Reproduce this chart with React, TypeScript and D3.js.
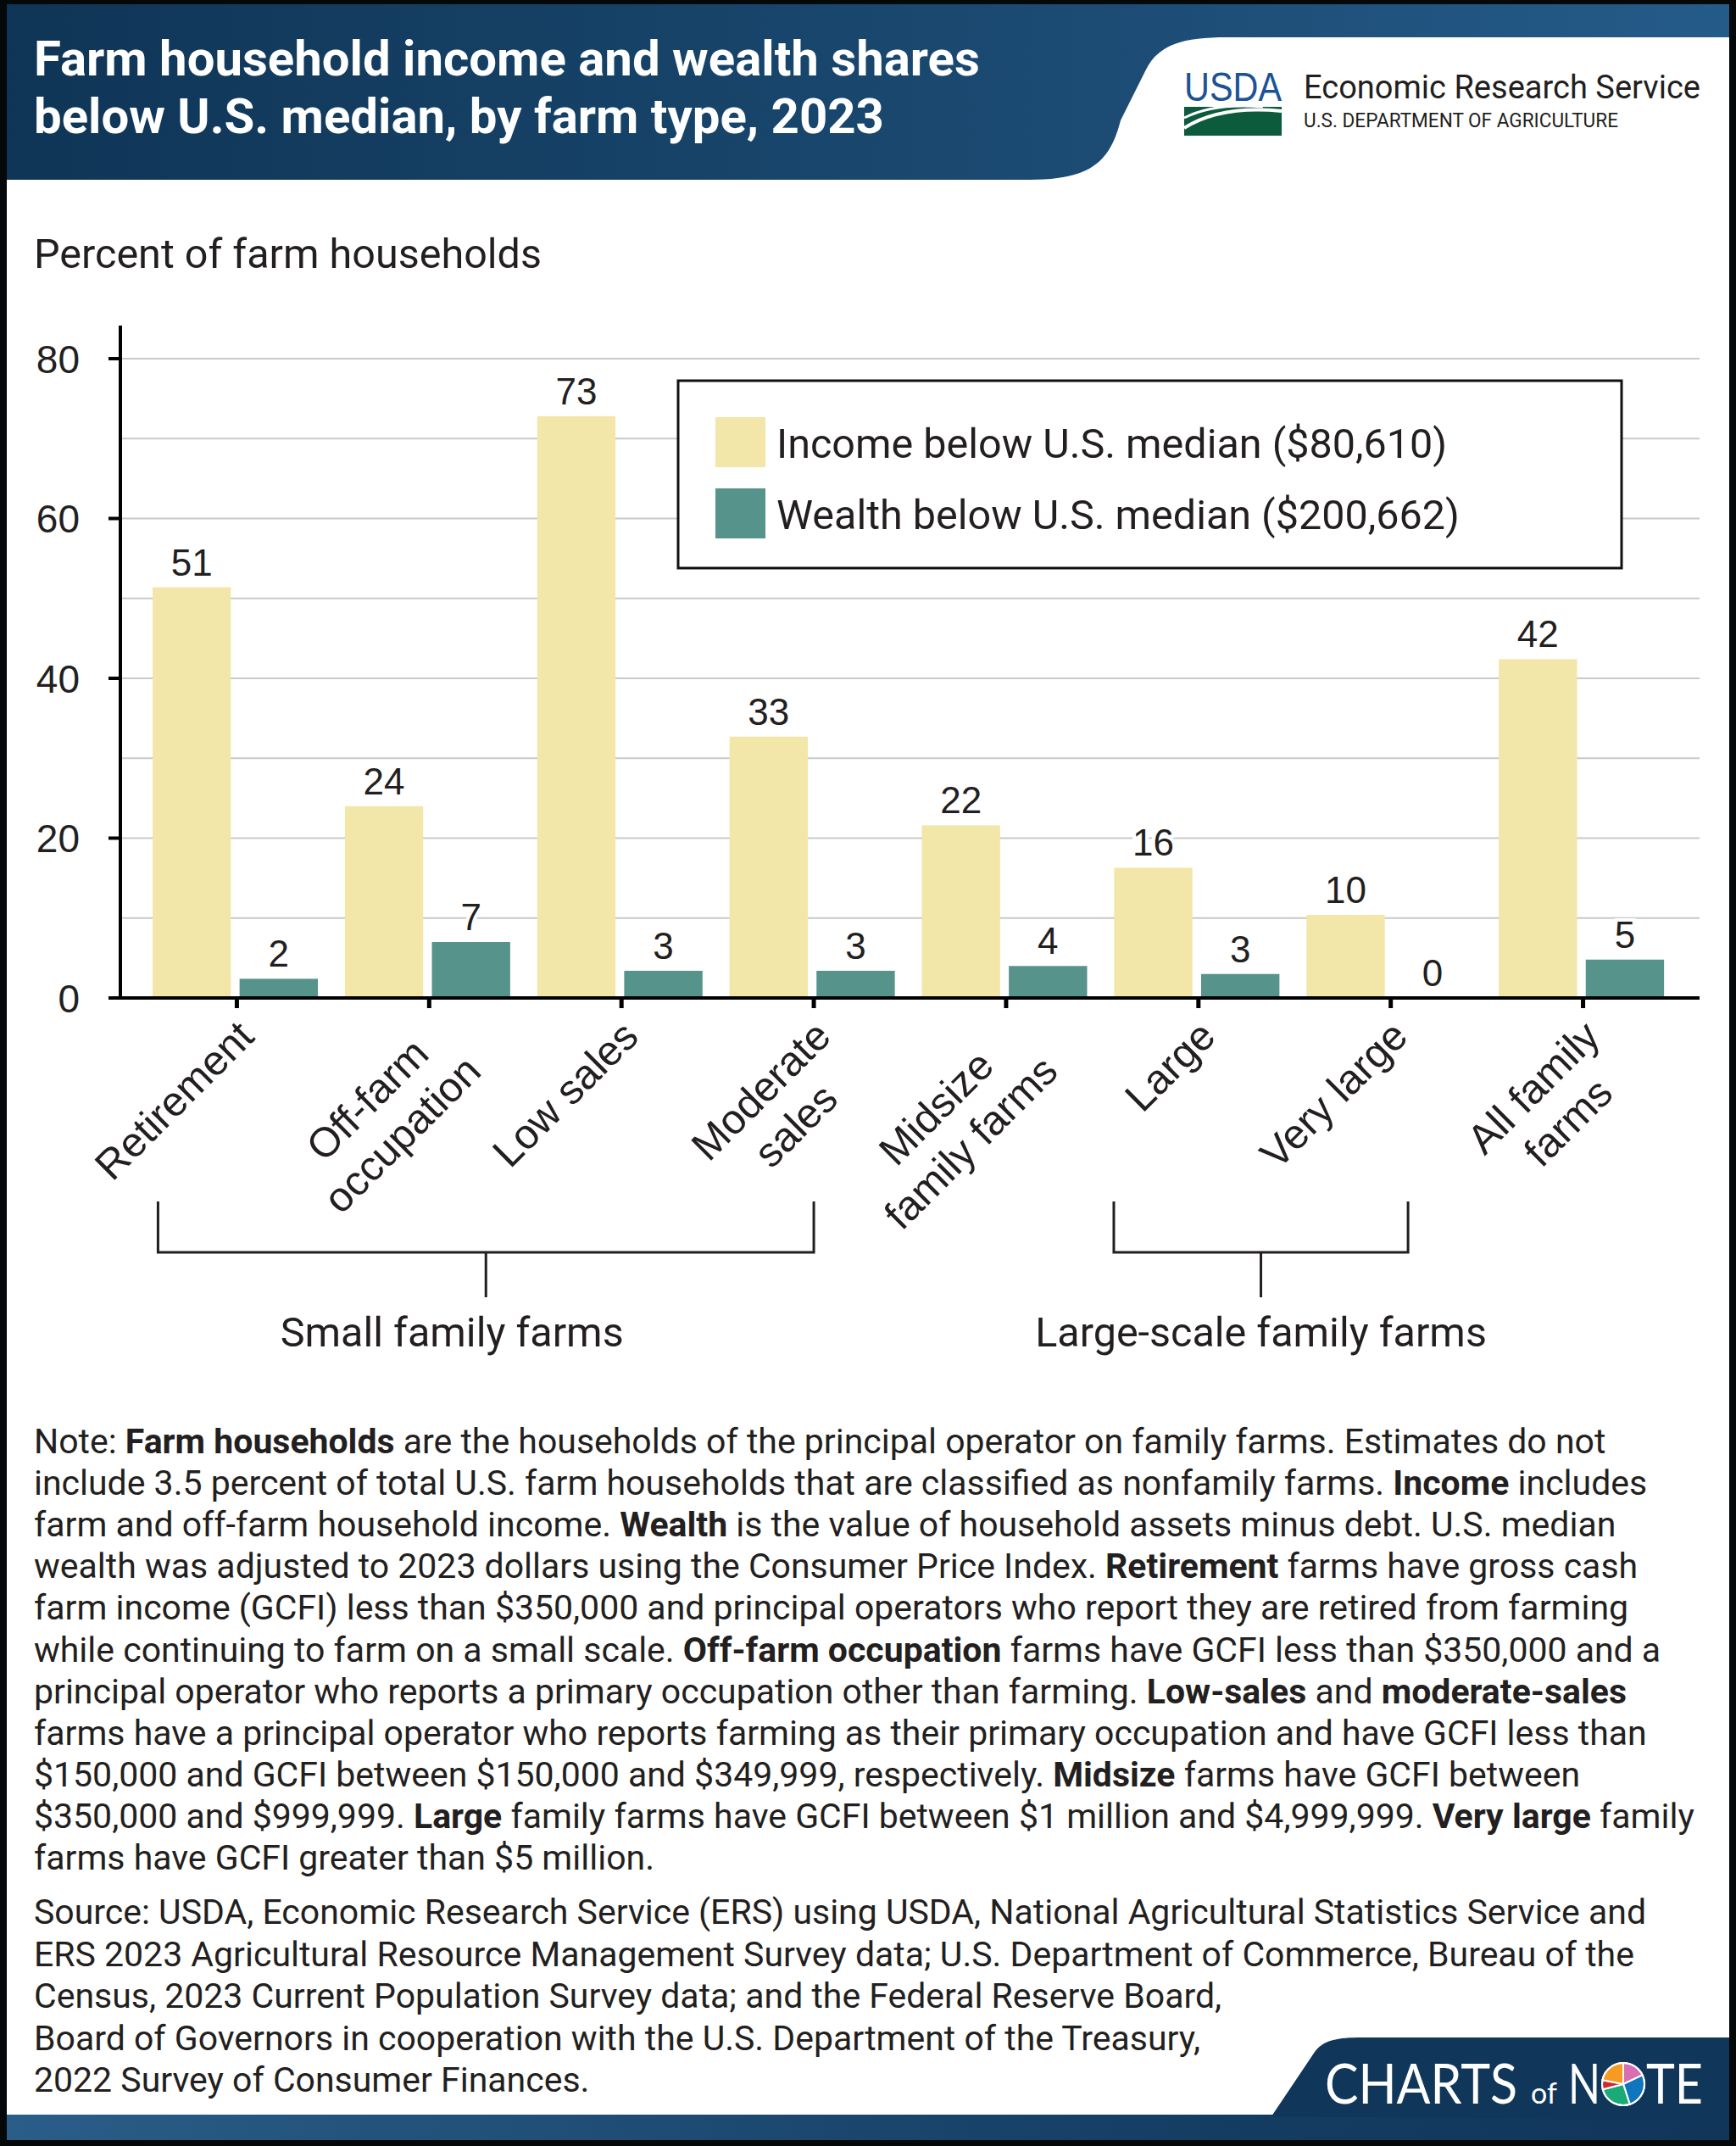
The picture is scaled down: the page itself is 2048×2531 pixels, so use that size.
import React from 'react';
import * as d3 from 'd3';

// ---- data ----
const categories = [
  'Retirement',
  'Off-farm occupation',
  'Low sales',
  'Moderate sales',
  'Midsize family farms',
  'Large',
  'Very large',
  'All family farms',
];
const categoryLines = [
  ['Retirement'],
  ['Off-farm', 'occupation'],
  ['Low sales'],
  ['Moderate', 'sales'],
  ['Midsize', 'family farms'],
  ['Large'],
  ['Very large'],
  ['All family', 'farms'],
];
const incomeValues = [51.4, 24.0, 72.8, 32.7, 21.6, 16.3, 10.4, 42.4];
const wealthValues = [2.4, 7.0, 3.4, 3.4, 4.0, 3.0, 0, 4.8];
const seriesKeys = ['income', 'wealth'];
const seriesNames = ['Income below U.S. median ($80,610)', 'Wealth below U.S. median ($200,662)'];
const seriesColors = ['#f3e6a9', '#56938a'];
const yTicks = [0, 20, 40, 60, 80];
const gridValues = [10, 20, 30, 40, 50, 60, 70, 80];
const groupLabels = ['Small family farms', 'Large-scale family farms'];
// bracket extents, in category-index units
const groupSpans = [
  [-0.41, 3.0],
  [4.56, 6.09],
];
const groupLabelShift = [-40, 0];

const titleLines = ['Farm household income and wealth shares', 'below U.S. median, by farm type, 2023'];
const yAxisTitle = 'Percent of farm households';

type Seg = [string, boolean];
const noteLines: Seg[][] = [
  [['Note: ', false], ['Farm households', true], [' are the households of the principal operator on family farms. Estimates do not', false]],
  [['include 3.5 percent of total U.S. farm households that are classified as nonfamily farms. ', false], ['Income', true], [' includes', false]],
  [['farm and off-farm household income. ', false], ['Wealth', true], [' is the value of household assets minus debt. U.S. median', false]],
  [['wealth was adjusted to 2023 dollars using the Consumer Price Index. ', false], ['Retirement', true], [' farms have gross cash', false]],
  [['farm income (GCFI) less than $350,000 and principal operators who report they are retired from farming', false]],
  [['while continuing to farm on a small scale. ', false], ['Off-farm occupation', true], [' farms have GCFI less than $350,000 and a', false]],
  [['principal operator who reports a primary occupation other than farming. ', false], ['Low-sales', true], [' and ', false], ['moderate-sales', true]],
  [['farms have a principal operator who reports farming as their primary occupation and have GCFI less than', false]],
  [['$150,000 and GCFI between $150,000 and $349,999, respectively. ', false], ['Midsize', true], [' farms have GCFI between', false]],
  [['$350,000 and $999,999. ', false], ['Large', true], [' family farms have GCFI between $1 million and $4,999,999. ', false], ['Very large', true], [' family', false]],
  [['farms have GCFI greater than $5 million.', false]],
];
const sourceLines = [
  'Source: USDA, Economic Research Service (ERS) using USDA, National Agricultural Statistics Service and',
  'ERS 2023 Agricultural Resource Management Survey data; U.S. Department of Commerce, Bureau of the',
  'Census, 2023 Current Population Survey data; and the Federal Reserve Board,',
  'Board of Governors in cooperation with the U.S. Department of the Treasury,',
  '2022 Survey of Consumer Finances.',
];
const pieShares = [18, 27, 26, 7, 22];
const pieColors = ['#d96fb2', '#0f75bd', '#1aaa78', '#d2282e', '#f59b24'];

// ---- helpers ----
const ctx = document.createElement('canvas').getContext('2d') as CanvasRenderingContext2D;
const textWidth = (t: string, font: string) => {
  ctx.font = font;
  return ctx.measureText(t).width;
};

const W = 2048;
const H = 2531;
const INK = '#231f20';
const SANS = '"Liberation Sans", Arial, sans-serif';
const TEXT = 'Roboto, "Liberation Sans", sans-serif';

const App: React.FC = () => {
  const axisY = 1177;
  const axisLeft = 142;
  const axisRight = 2005;

  const x0 = d3.scaleBand<string>().domain(categories).range([166, 1981]).padding(0);
  const x1 = d3.scaleBand<string>().domain(seriesKeys).range([14, 209]).paddingInner(0.1);
  const y = d3.scaleLinear().domain([0, 80]).range([axisY, 423]);
  const center = (i: number) => (x0(categories[i]) as number) + x0.bandwidth() / 2;
  const step = x0.step();
  const posAt = (f: number) => center(0) + f * step;

  const series = [incomeValues, wealthValues];

  // font fitting against the reference widths
  const titleSize = 50 * 1116 / textWidth(titleLines[0], `700 50px Roboto`);
  const noteSize = 40 * 1903 / textWidth(noteLines[7][0][0], `40px Roboto`);
  const labelSize = 49;

  const pie = d3.pie<number>().sort(null).value(d => d)(pieShares);
  const arc = d3.arc<d3.PieArcDatum<number>>().innerRadius(0).outerRadius(25);

  return (
    <svg width={W} height={H} viewBox={`0 0 ${W} ${H}`} style={{ position: 'absolute', left: 0, top: 0, display: 'block' }}>
      <defs>
        <linearGradient id="hdr" x1="0" x2="1" y1="0" y2="0">
          <stop offset="0" stopColor="#0f3556" />
          <stop offset="0.6" stopColor="#1b4a72" />
          <stop offset="1" stopColor="#255b89" />
        </linearGradient>
        <linearGradient id="ftr" x1="0" x2="1" y1="0" y2="0">
          <stop offset="0" stopColor="#2a5d88" />
          <stop offset="0.7" stopColor="#143d62" />
          <stop offset="1" stopColor="#10365a" />
        </linearGradient>
      </defs>
      <rect x={0} y={0} width={W} height={H} fill="#050808" />
      <rect x={8} y={5} width={W - 16} height={H - 12} fill="#ffffff" />

      {/* header */}
      <rect x={8} y={5} width={W - 16} height={207} fill="url(#hdr)" />
      <path d="M1215 212 C1290 212 1310 188 1322 142 L1352 82 C1367 52 1397 44 1447 44 L2040 44 L2040 212 Z" fill="#ffffff" />
      {titleLines.map((t, i) => (
        <text key={t} x={40} y={89 + i * 68} fill="#ffffff" fontFamily={TEXT} fontWeight={700} fontSize={titleSize}>
          {t}
        </text>
      ))}
      <text x={1397} y={119} fill="#1b5395" fontFamily={SANS} fontSize={48} textLength={115} lengthAdjust="spacingAndGlyphs">
        USDA
      </text>
      <rect x={1397} y={126} width={115} height={34} fill="#0c5b3c" />
      <path d="M1397 151 Q1440 124 1512 131" stroke="#ffffff" strokeWidth={4} fill="none" />
      <path d="M1397 139 Q1432 121 1490 126" stroke="#ffffff" strokeWidth={3} fill="none" />
      <text x={1538} y={116} fill={INK} fontFamily={TEXT} fontSize={39} textLength={468} lengthAdjust="spacingAndGlyphs">
        Economic Research Service
      </text>
      <text x={1538} y={150} fill={INK} fontFamily={TEXT} fontSize={23} textLength={371} lengthAdjust="spacingAndGlyphs">
        U.S. DEPARTMENT OF AGRICULTURE
      </text>

      {/* y axis title */}
      <text x={40} y={316} fill={INK} fontFamily={TEXT} fontSize={48.5}>
        {yAxisTitle}
      </text>

      {/* gridlines */}
      {gridValues.map(v => (
        <line key={v} x1={axisLeft} x2={axisRight} y1={y(v)} y2={y(v)} stroke="#c9c9c9" strokeWidth={2} />
      ))}

      {/* legend */}
      <rect x={800} y={449} width={1113} height={221} fill="#ffffff" stroke="#111" strokeWidth={3} />
      {seriesNames.map((n, i) => (
        <g key={n}>
          <rect x={844} y={492 + i * 84} width={59} height={59} fill={seriesColors[i]} />
          <text x={916} y={540 + i * 84} fill={INK} fontFamily={TEXT} fontSize={48.5}>
            {n}
          </text>
        </g>
      ))}

      {/* bars */}
      {categories.map((c, i) => (
        <g key={c} transform={`translate(${x0(c)},0)`}>
          {seriesKeys.map((k, s) => {
            const v = series[s][i];
            return (
              <rect key={k} x={x1(k)} y={y(v)} width={x1.bandwidth()} height={y(0) - y(v)} fill={seriesColors[s]} />
            );
          })}
        </g>
      ))}

      {/* value labels */}
      {categories.map((c, i) =>
        seriesKeys.map((k, s) => {
          const v = series[s][i];
          return (
            <text
              key={c + k}
              x={(x0(c) as number) + (x1(k) as number) + x1.bandwidth() / 2}
              y={y(v) - 14}
              textAnchor="middle"
              fill={INK}
              fontFamily={SANS}
              fontSize={44}
              stroke="#ffffff"
              strokeWidth={8}
              paintOrder="stroke"
            >
              {d3.format('.0f')(v)}
            </text>
          );
        })
      )}

      {/* axes */}
      <line x1={axisLeft} x2={axisLeft} y1={384} y2={axisY + 2} stroke="#000" strokeWidth={4} />
      <line x1={axisLeft - 2} x2={axisRight} y1={axisY} y2={axisY} stroke="#000" strokeWidth={4} />
      {yTicks.map(t => (
        <g key={t}>
          <line x1={axisLeft - 14} x2={axisLeft} y1={y(t)} y2={y(t)} stroke="#000" strokeWidth={4} />
          <text x={94} y={y(t)} dy="0.36em" textAnchor="end" fill={INK} fontFamily={SANS} fontSize={46}>
            {t}
          </text>
        </g>
      ))}
      {categories.map((c, i) => (
        <line key={c} x1={center(i)} x2={center(i)} y1={axisY} y2={axisY + 12} stroke="#000" strokeWidth={5} />
      ))}

      {/* rotated category labels */}
      {categoryLines.map((lines, i) => {
        const maxW = d3.max(lines, l => textWidth(l, `${labelSize}px "Liberation Sans"`)) as number;
        const mid = -maxW / 2 - 18;
        return (
          <g key={categories[i]} transform={`translate(${center(i)},${axisY}) rotate(-45)`}>
            {lines.map((l, j) => (
              <text key={l} x={mid} y={50 + j * 58} textAnchor="middle" fill={INK} fontFamily={SANS} fontSize={labelSize}>
                {l}
              </text>
            ))}
          </g>
        );
      })}

      {/* group brackets */}
      {groupLabels.map((g, i) => {
        const l = posAt(groupSpans[i][0]);
        const r = posAt(groupSpans[i][1]);
        const m = (l + r) / 2;
        return (
          <g key={g}>
            <path d={`M${l} 1417 V1477 H${r} V1417 M${m} 1477 V1530`} stroke={INK} strokeWidth={3} fill="none" />
            <text x={m + groupLabelShift[i]} y={1588} textAnchor="middle" fill={INK} fontFamily={TEXT} fontSize={48.5}>
              {g}
            </text>
          </g>
        );
      })}

      {/* note */}
      {noteLines.map((segs, i) => (
        <text key={i} x={40} y={1714 + i * 49.1} fill={INK} fontFamily={TEXT} fontSize={noteSize}>
          {segs.map(([t, b], j) => (
            <tspan key={j} fontWeight={b ? 700 : 400}>
              {t}
            </tspan>
          ))}
        </text>
      ))}
      {sourceLines.map((t, i) => (
        <text key={t} x={40} y={2269 + i * 49.5} fill={INK} fontFamily={TEXT} fontSize={noteSize}>
          {t}
        </text>
      ))}

      {/* footer */}
      <rect x={8} y={2494} width={W - 16} height={30} fill="url(#ftr)" />
      <path d="M1500 2496 L1551 2420 C1561 2406 1578 2403 1607 2403 L2040 2403 L2040 2500 Z" fill="#10365a" />
      <text x={1563} y={2481} fill="#ffffff" fontFamily="Lato, sans-serif" fontSize={65} textLength={227} lengthAdjust="spacingAndGlyphs">
        CHARTS
      </text>
      <text x={1806} y={2481} fill="#ffffff" fontFamily="Lato, sans-serif" fontSize={34}>
        of
      </text>
      <text x={1850} y={2481} fill="#ffffff" fontFamily="Lato, sans-serif" fontSize={65} textLength={38} lengthAdjust="spacingAndGlyphs">
        N
      </text>
      <g transform="translate(1915,2458)">
        {pie.map((p, i) => (
          <path key={i} d={arc(p) as string} fill={pieColors[i]} stroke="#ffffff" strokeWidth={2} />
        ))}
        <circle r={25} fill="none" stroke="#ffffff" strokeWidth={2} />
      </g>
      <text x={1942} y={2481} fill="#ffffff" fontFamily="Lato, sans-serif" fontSize={65} textLength={67} lengthAdjust="spacingAndGlyphs">
        TE
      </text>
    </svg>
  );
};

export default App;
